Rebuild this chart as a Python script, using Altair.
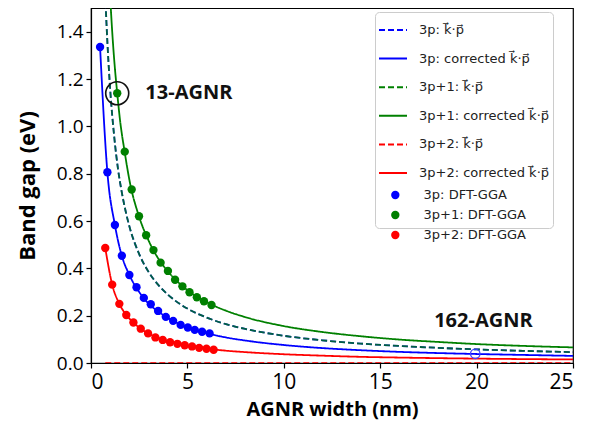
import altair as alt
import pandas as pd

KP = "k\u20d7\u00b7p\u20d7"

# ---- simple k.p curves (3p and 3p+1 coincide), 3p+2 is zero ----
kp_x = [0.7, 0.8, 0.9, 1.0, 1.2, 1.4, 1.6, 1.8, 2.0, 2.5, 3.0, 3.5, 4.0, 5.0, 6.0, 7.0, 8.0,
        10.0, 12.0, 14.0, 16.0, 18.0, 20.0, 22.5, 25.0]
kp_y = [1.64, 1.44, 1.28, 1.15, 0.96, 0.82, 0.72, 0.64, 0.575, 0.46, 0.383, 0.329, 0.288,
        0.23, 0.192, 0.164, 0.144, 0.115, 0.096, 0.082, 0.072, 0.064, 0.0575, 0.051, 0.046]
kp2_x = [0.74, 25.0]
kp2_y = [0.0, 0.0]

# ---- corrected k.p curves ----
c3p_x = [0.47, 0.85, 1.24, 1.6, 1.99, 2.5, 3.0, 3.5, 4.0, 5.0, 6.0, 7.0, 8.0, 10.0, 12.0,
         14.0, 16.0, 18.0, 20.0, 22.5, 25.0]
c3p_y = [1.335, 0.806, 0.583, 0.453, 0.372, 0.30, 0.25, 0.217, 0.19, 0.151, 0.126, 0.108,
         0.095, 0.076, 0.063, 0.054, 0.047, 0.042, 0.038, 0.034, 0.030]
c3p1_x = [0.95, 1.0, 1.1, 1.2, 1.36, 1.5, 1.75, 2.0, 2.5, 3.0, 3.5, 4.0, 5.0, 6.0, 7.0, 8.0,
          10.0, 12.0, 14.0, 16.0, 18.0, 20.0, 22.5, 25.0]
c3p1_y = [1.62, 1.54, 1.40, 1.285, 1.14, 1.03, 0.89, 0.77, 0.617, 0.515, 0.44, 0.386, 0.308,
          0.257, 0.221, 0.194, 0.156, 0.131, 0.113, 0.099, 0.089, 0.080, 0.072, 0.066]
c3p2_x = [0.74, 1.1, 1.47, 1.83, 2.2, 2.58, 3.0, 3.5, 4.0, 5.0, 6.0, 7.0, 8.0, 10.0, 12.0,
          14.0, 16.0, 18.0, 20.0, 22.5, 25.0]
c3p2_y = [0.486, 0.331, 0.25, 0.203, 0.171, 0.145, 0.124, 0.106, 0.092, 0.074, 0.061, 0.052,
          0.046, 0.037, 0.031, 0.026, 0.023, 0.0205, 0.0185, 0.0165, 0.015]

# ---- DFT-GGA points ----
dft3p_x = [0.47, 0.85, 1.24, 1.6, 1.99, 2.36, 2.74, 3.1, 3.48, 3.88, 4.26, 4.65, 5.02, 5.38, 5.76, 6.15]
dft3p_y = [1.335, 0.806, 0.583, 0.453, 0.372, 0.32, 0.275, 0.248, 0.22, 0.195, 0.178, 0.161,
           0.15, 0.14, 0.132, 0.125]
dft3p1_x = [1.36, 1.75, 2.11, 2.49, 2.86, 3.24, 3.61, 3.99, 4.36, 4.74, 5.11, 5.49, 5.86, 6.25]
dft3p1_y = [1.14, 0.893, 0.733, 0.62, 0.54, 0.477, 0.424, 0.389, 0.352, 0.324, 0.299, 0.278,
            0.261, 0.245]
dft3p2_x = [0.74, 1.1, 1.47, 1.83, 2.2, 2.58, 2.96, 3.34, 3.72, 4.1, 4.48, 4.86, 5.24, 5.61, 5.99, 6.36]
dft3p2_y = [0.486, 0.331, 0.25, 0.203, 0.171, 0.145, 0.125, 0.108, 0.0975, 0.0875, 0.081, 0.075,
            0.07, 0.064, 0.06, 0.056]

line_labels = ["3p: " + KP, "3p: corrected " + KP, "3p+1: " + KP, "3p+1: corrected " + KP,
               "3p+2: " + KP, "3p+2: corrected " + KP]
line_colors = ["#0000ff", "#0000ff", "#008000", "#008000", "#ff0000", "#ff0000"]
line_dashes = [[6, 3], [1, 0], [6, 3], [1, 0], [6, 3], [1, 0]]
dft_labels = ["3p: DFT-GGA", "3p+1: DFT-GGA", "3p+2: DFT-GGA"]
dft_colors = ["#0000ff", "#008000", "#ff0000"]

# annotations
ann_circle_x = [1.36]
ann_circle_y = [1.14]
ann_open_x = [19.93]
ann_open_y = [0.039]
ann_text = ["13-AGNR", "162-AGNR"]
ann_text_x = [2.82, 17.8]
ann_text_y = [1.14, 0.178]

def line_df(label, xs, ys):
    return pd.DataFrame({"x": xs, "y": ys, "series": label})

xs = alt.Scale(domain=[0, 25], nice=False)
ys = alt.Scale(domain=[0, 1.5], nice=False)
X = alt.X("x:Q", scale=xs, axis=alt.Axis(values=[0, 5, 10, 15, 20, 25], title="AGNR width (nm)"))
Y = alt.Y("y:Q", scale=ys, axis=alt.Axis(values=[0, 0.2, 0.4, 0.6, 0.8, 1.0, 1.2, 1.4],
                                          format=".1f", title="Band gap (eV)"))

spacer = "\u00a0" * 45
legA = alt.Legend(
    title=[spacer, " ", " "], titleOrient="bottom", titleFontSize=13, titleLineHeight=16,
    titlePadding=0, orient="none", legendX=284, legendY=4, padding=3,
    strokeColor="#cccccc", cornerRadius=4,
    labelFont="DejaVu Sans", labelFontSize=13, labelColor="#222222", labelOffset=11,
    labelLimit=300, symbolSize=784, symbolStrokeWidth=2, symbolType="stroke", rowPadding=6.6,
)
stroke_enc = alt.Stroke("series:N", scale=alt.Scale(domain=line_labels, range=line_colors), legend=legA)
dash_enc = alt.StrokeDash("series:N", scale=alt.Scale(domain=line_labels, range=line_dashes), legend=legA)

def line_layer(label, xs_, ys_, opacity=1.0):
    return alt.Chart(line_df(label, xs_, ys_)).mark_line(
        strokeWidth=1.8, clip=True, interpolate="monotone", opacity=opacity
    ).encode(x=X, y=Y, stroke=stroke_enc, strokeDash=dash_enc)

layers = [
    line_layer(line_labels[0], kp_x, kp_y),
    line_layer(line_labels[2], kp_x, kp_y, 0.75),
    line_layer(line_labels[4], kp2_x, kp2_y, 0.8),
    line_layer(line_labels[1], c3p_x, c3p_y),
    line_layer(line_labels[3], c3p1_x, c3p1_y),
    line_layer(line_labels[5], c3p2_x, c3p2_y),
]

pts = pd.concat([
    pd.DataFrame({"x": dft3p_x, "y": dft3p_y, "family": dft_labels[0]}),
    pd.DataFrame({"x": dft3p1_x, "y": dft3p1_y, "family": dft_labels[1]}),
    pd.DataFrame({"x": dft3p2_x, "y": dft3p2_y, "family": dft_labels[2]}),
])
legB = alt.Legend(
    title=None, orient="none", legendX=297.8, legendY=180.5, padding=0,
    labelFont="DejaVu Sans", labelFontSize=13, labelColor="#222222", labelOffset=21.8,
    labelAlign="left", symbolSize=70, symbolType="circle", rowPadding=6, symbolStrokeWidth=0,
)
points = alt.Chart(pts).mark_circle(size=70, opacity=1).encode(
    x=X, y=Y, fill=alt.Fill("family:N", scale=alt.Scale(domain=dft_labels, range=dft_colors), legend=legB)
)

circ13 = alt.Chart(pd.DataFrame({"x": ann_circle_x, "y": ann_circle_y})).mark_point(
    shape="circle", filled=False, size=530, strokeWidth=1.6, color="#111111", opacity=1
).encode(x=X, y=Y)
open162 = alt.Chart(pd.DataFrame({"x": ann_open_x, "y": ann_open_y})).mark_point(
    shape="circle", filled=False, size=90, strokeWidth=1.3, color="#4040ff", opacity=1
).encode(x=X, y=Y)
texts = alt.Chart(pd.DataFrame({"x": ann_text_x, "y": ann_text_y, "t": ann_text})).mark_text(
    align="left", baseline="middle", font="Open Sans", fontWeight="bold", fontSize=20, color="#111111"
).encode(x=X, y=Y, text="t:N")

chart = alt.layer(*layers, points, circ13, open162, texts).properties(
    width=482, height=355,
    autosize=alt.AutoSizeParams(type="none"),
    padding={"left": 83, "top": 0, "right": 8, "bottom": 60},
).configure_view(stroke="black", strokeWidth=1.2).configure_axis(
    grid=False, domainColor="black", domainWidth=1.2, tickColor="black", tickWidth=1.2, tickSize=5,
    labelColor="black", titleColor="black", labelFont="Open Sans", titleFont="Open Sans",
    titleFontWeight="bold",
).configure_axisX(labelFontSize=21, labelPadding=3, titleFontSize=20, titlePadding=7).configure_axisY(
    labelFontSize=19, labelPadding=3, titleFontSize=22, titlePadding=17
)

chart.save("out.html", embed_options={"renderer": "svg", "actions": False})
